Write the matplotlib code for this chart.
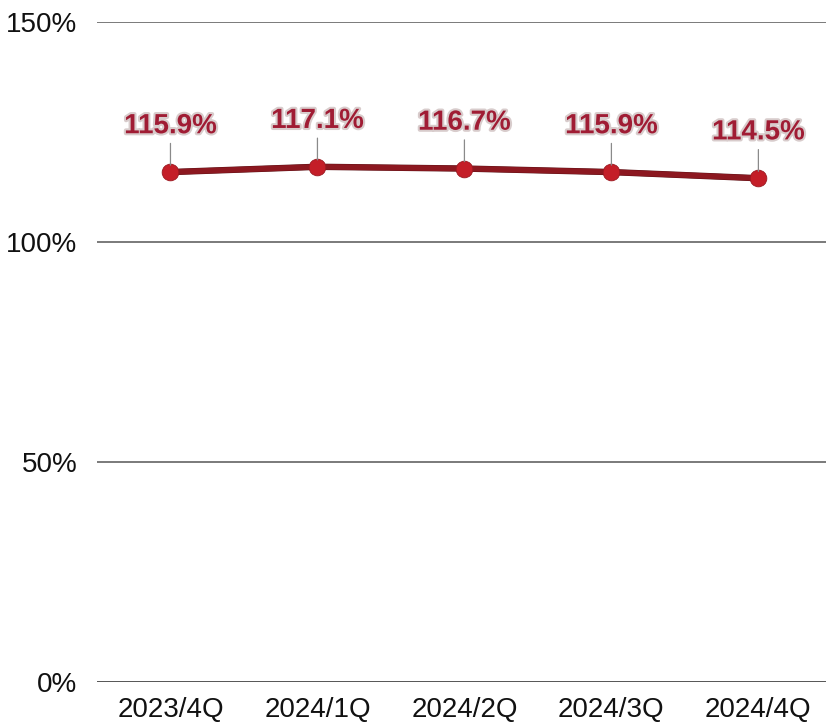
import matplotlib.pyplot as plt
import matplotlib.patheffects as pe

quarters = ["2023/4Q", "2024/1Q", "2024/2Q", "2024/3Q", "2024/4Q"]
ratios = [115.9, 117.1, 116.7, 115.9, 114.5]
y_ticks = [0, 50, 100, 150]

plt.rcParams['font.family'] = ['Liberation Sans', 'DejaVu Sans']

fig = plt.figure(figsize=(8.26, 7.25), dpi=100)
ax = fig.add_axes([0.1174, 0.0593, 1 - 0.1174, 0.9103])

x = list(range(len(quarters)))
ax.plot(x, ratios, color='#8c1820', lw=4.0, zorder=3, solid_capstyle='round',
        path_effects=[pe.Stroke(linewidth=4.6, foreground='#5a1014'), pe.Normal()])
ax.plot(x, ratios, 'o', color='#c41e28', markersize=12, markeredgewidth=0.6,
        markeredgecolor='#9a1820', zorder=4)

# value labels with a thin leader line down to each point
for xi, v in zip(x, ratios):
    t = ax.annotate(f"{v:.1f}%", xy=(xi, v), xytext=(0, 33), textcoords='offset points',
                    ha='center', va='center', fontsize=20, fontweight='bold',
                    color='#a01c34', zorder=5,
                    arrowprops=dict(arrowstyle='-', color='#8a8a8a', lw=0.9,
                                    shrinkA=1, shrinkB=5))
    t.set_path_effects([pe.withStroke(linewidth=3, foreground='#d8cccc')])

ax.set_ylim(0, 150)
ax.set_xlim(-0.5, 4.46)
ax.set_yticks(y_ticks)
ax.set_yticklabels([f"{t}%" for t in y_ticks])
ax.set_xticks(x)
ax.set_xticklabels(quarters)
ax.tick_params(axis='both', length=0, labelsize=20, colors='#111111')
ax.tick_params(axis='y', pad=14)
ax.tick_params(axis='x', pad=11)

for t in y_ticks[1:]:
    ax.axhline(t, color='#7a7a7a', lw=1.4, zorder=1)
ax.axhline(0, color='#222222', lw=1.8, zorder=2)

for s in ax.spines.values():
    s.set_visible(False)
ax.patch.set_visible(False)

fig.savefig('out.png', dpi=100)
